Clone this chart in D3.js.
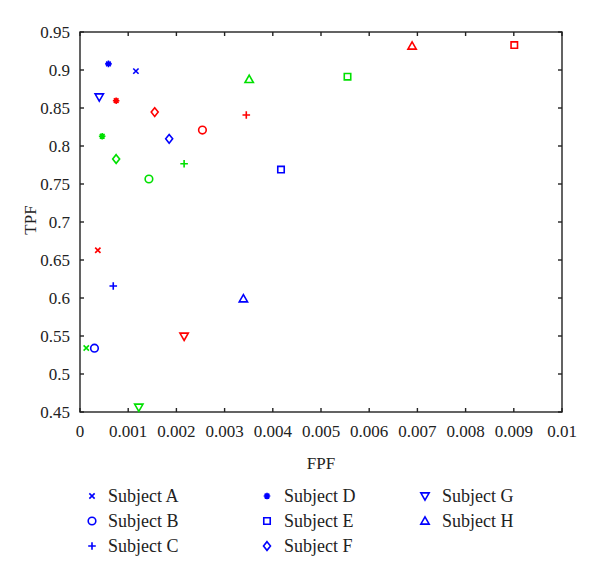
<!DOCTYPE html>
<html><head><meta charset="utf-8">
<script src="https://cdn.jsdelivr.net/npm/d3@7"></script>
<style>body{margin:0;background:#fff}svg{display:block}</style>
</head><body><div id="c"></div>
<script>
const subjects = ["Subject A","Subject B","Subject C","Subject D","Subject E","Subject F","Subject G","Subject H"];
const shapes = ["times","circle","plus","asterisk","square","diamond","triDown","triUp"];
const groups = ["blue","red","green"];
const fpfBlue  = [0.00116,0.00030,0.00069,0.00059,0.00417,0.00185,0.00040,0.00339];
const tpfBlue  = [0.8985,0.5340,0.6158,0.9080,0.7690,0.8095,0.8645,0.5990];
const fpfRed   = [0.00037,0.00254,0.00345,0.00075,0.00901,0.00155,0.00216,0.00689];
const tpfRed   = [0.6628,0.8210,0.8408,0.8596,0.9328,0.8447,0.5496,0.9316];
const fpfGreen = [0.00013,0.00143,0.00216,0.00046,0.00555,0.00075,0.00122,0.00351];
const tpfGreen = [0.5342,0.7566,0.7767,0.8128,0.8912,0.7829,0.4562,0.8877];
const xTicks = [0,0.001,0.002,0.003,0.004,0.005,0.006,0.007,0.008,0.009,0.01];
const xTickLabels = ["0","0.001","0.002","0.003","0.004","0.005","0.006","0.007","0.008","0.009","0.01"];
const yTicks = [0.45,0.5,0.55,0.6,0.65,0.7,0.75,0.8,0.85,0.9,0.95];
const yTickLabels = ["0.45","0.5","0.55","0.6","0.65","0.7","0.75","0.8","0.85","0.9","0.95"];

const FONT = "'Liberation Serif', 'DejaVu Serif', serif";
const colors = {blue:"#0000ff", red:"#ff0000", green:"#00e000"};
const W=600,H=580;
const L=80,R=562,T=32,B=412;
const svg=d3.select("#c").append("svg").attr("width",W).attr("height",H)
  .attr("font-family",FONT);
const x=d3.scaleLinear().domain([0,0.01]).range([L,R]);
const y=d3.scaleLinear().domain([0.45,0.95]).range([B,T]);

function markerPath(shape,r){
  const p=d3.path();
  switch(shape){
    case "times": {const a=r*0.7;p.moveTo(-a,-a);p.lineTo(a,a);p.moveTo(-a,a);p.lineTo(a,-a);break;}
    case "plus": p.moveTo(-r,0);p.lineTo(r,0);p.moveTo(0,-r);p.lineTo(0,r);break;
    case "asterisk": {const a=r;for(let i=0;i<4;i++){const t=i*Math.PI/4;p.moveTo(-a*Math.cos(t),-a*Math.sin(t));p.lineTo(a*Math.cos(t),a*Math.sin(t));}break;}
    case "circle": p.arc(0,0,r,0,2*Math.PI);p.closePath();break;
    case "square": {const a=r*0.85;p.rect(-a,-a,2*a,2*a);break;}
    case "diamond": {const a=r*1.15;p.moveTo(0,-a);p.lineTo(a*0.8,0);p.lineTo(0,a);p.lineTo(-a*0.8,0);p.closePath();break;}
    case "triUp": {const a=r*1.1;p.moveTo(0,-a);p.lineTo(a,a*0.75);p.lineTo(-a,a*0.75);p.closePath();break;}
    case "triDown": {const a=r*1.1;p.moveTo(0,a);p.lineTo(a,-a*0.75);p.lineTo(-a,-a*0.75);p.closePath();break;}
  }
  return p.toString();
}
function drawMarker(g,shape,color,cx,cy){
  const sw = shape==="asterisk"?1.6:1.6;
  g.append("path").attr("d",markerPath(shape,shape==="asterisk"?3.3:3.8))
    .attr("transform",`translate(${cx},${cy})`)
    .attr("fill","none").attr("stroke",color).attr("stroke-width",sw);
  if(shape==="asterisk") g.append("circle").attr("cx",cx).attr("cy",cy).attr("r",2.4).attr("fill",color);
}

// axes
const axG=svg.append("g").attr("stroke","#222").attr("stroke-width",1.4);
axG.append("rect").attr("x",L).attr("y",T).attr("width",R-L).attr("height",B-T).attr("fill","none");
xTicks.forEach(v=>{
  axG.append("line").attr("x1",x(v)).attr("x2",x(v)).attr("y1",B).attr("y2",B-4);
  axG.append("line").attr("x1",x(v)).attr("x2",x(v)).attr("y1",T).attr("y2",T+4);
});
yTicks.forEach(v=>{
  axG.append("line").attr("x1",L).attr("x2",L+4).attr("y1",y(v)).attr("y2",y(v));
  axG.append("line").attr("x1",R).attr("x2",R-4).attr("y1",y(v)).attr("y2",y(v));
});
function txt(g){return g.append("text").attr("font-family",FONT).attr("fill","#222");}
xTicks.forEach((d,i)=>txt(svg).attr("x",x(d)).attr("y",B+25).attr("text-anchor","middle").attr("font-size",17).text(xTickLabels[i]));
yTicks.forEach((d,i)=>txt(svg).attr("x",L-10).attr("y",y(d)+6).attr("text-anchor","end").attr("font-size",17).text(yTickLabels[i]));
txt(svg).attr("x",(L+R)/2).attr("y",469).attr("text-anchor","middle").attr("font-size",17).text("FPF");
txt(svg).attr("transform","translate(36,220) rotate(-90)").attr("text-anchor","middle").attr("font-size",17).text("TPF");

// points
const pts=svg.append("g");
const seriesData={blue:[fpfBlue,tpfBlue],red:[fpfRed,tpfRed],green:[fpfGreen,tpfGreen]};
groups.forEach(gname=>{
  const [fx,fy]=seriesData[gname];
  subjects.forEach((s,i)=>drawMarker(pts,shapes[i],colors[gname],x(fx[i]),y(fy[i])));
});

// legend
const legCols=[[92,108],[267,284],[425,442]];
const legRows=[496,521,546];
const leg=svg.append("g");
subjects.forEach((s,i)=>{
  const c=Math.floor(i/3), r=i%3;
  const [mx,tx]=legCols[c];
  drawMarker(leg,shapes[i],colors.blue,mx,legRows[r]);
  txt(leg).attr("x",tx).attr("y",legRows[r]+6).attr("font-size",18).text(s);
});
</script></body></html>
